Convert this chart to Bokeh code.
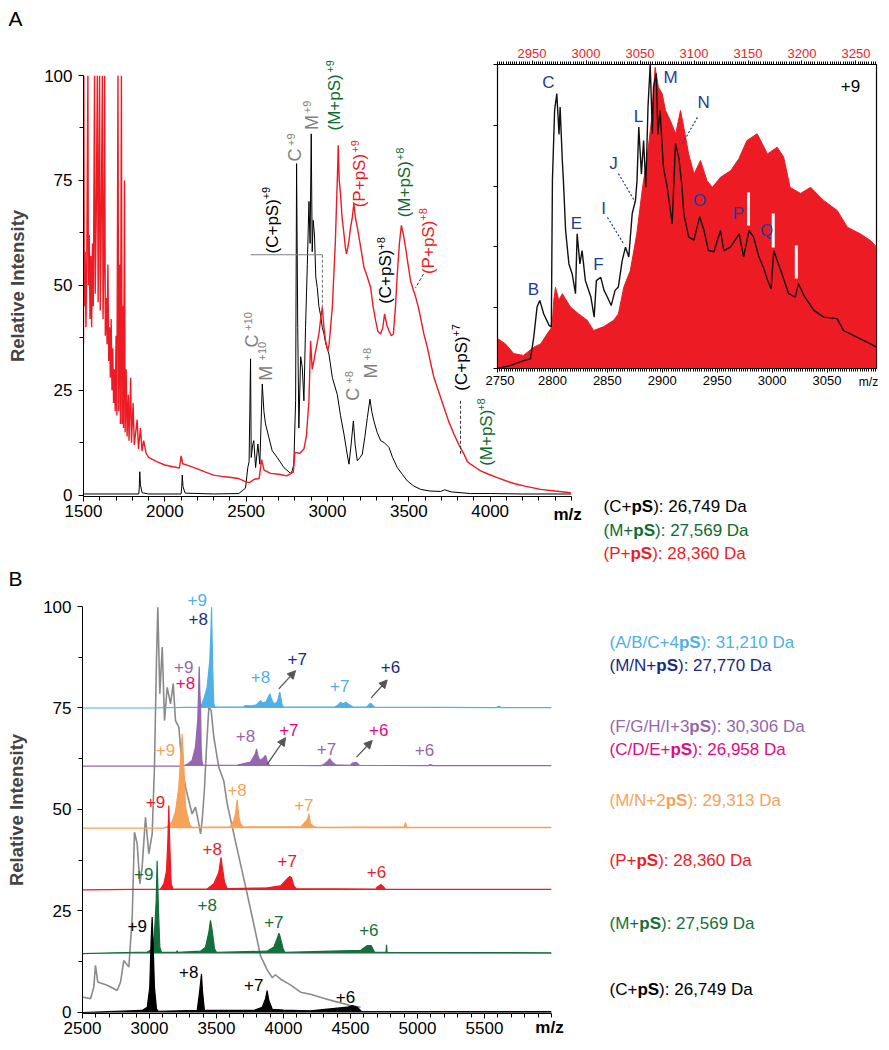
import numpy as np
from bokeh.plotting import figure
from bokeh.models import Range1d, LinearAxis, FixedTicker, Label, Arrow, NormalHead
from bokeh.embed import file_html
from bokeh.resources import INLINE

FONT = "Liberation Sans"
BLACK = "#000000"
GRAY_LBL = "#808080"
RED = "#ed1c24"
GREEN = "#0d6b30"
NAVY = "#1b2a80"
LBLUE = "#4fb0e5"
PURPLE = "#9467b0"
MAGENTA = "#e4087e"
ORANGE = "#f6a25a"
DGREEN = "#14703a"
GRAYLINE = "#8a8a8a"
INSET_BLUE = "#1f3d97"

# ---------------- Panel A : main spectra ----------------
a_xticks = [1500, 2000, 2500, 3000, 3500, 4000]
a_yticks = [0, 25, 50, 75, 100]

a_black_mz = [1500, 1700, 1840, 1843, 1846, 1850, 1860, 1900, 2100, 2104, 2107, 2112, 2125, 2300,
              2455, 2496, 2510, 2518, 2527, 2531, 2540, 2547, 2558, 2572, 2584, 2599, 2609, 2619,
              2640, 2660, 2691, 2732, 2773, 2783, 2793, 2804, 2810, 2817, 2824, 2835, 2845, 2855,
              2865, 2876, 2886, 2893, 2900, 2906, 2912, 2920, 2928, 2937, 2947, 2957, 2968, 2978,
              2990, 3009, 3030, 3060, 3080, 3101, 3120, 3132, 3145, 3159, 3170, 3183, 3200, 3214,
              3230, 3245, 3261, 3272, 3285, 3305, 3327, 3350, 3378, 3400, 3429, 3460, 3491, 3530,
              3573, 3630, 3696, 3720, 3760, 3880, 4000, 4200, 4500]
a_black_int = [0.3, 0.3, 0.3, 2, 5.6, 2.5, 0.6, 0.3, 0.3, 2, 4.8, 2, 0.5, 0.3,
               0.4, 1.7, 6.6, 8, 32.5, 9, 12, 13, 6.6, 12.2, 7.4, 26.5, 20, 17,
               13.7, 10.6, 9, 6.6, 5.2, 5.8, 7.4, 22.5, 79, 40, 16, 33, 30.5, 22.5,
               40, 55, 70, 60, 86.1, 58, 65.5, 62, 52, 49.5, 45, 43, 40, 38.5,
               36, 33.6, 28, 24, 19, 14.6, 10, 7.4, 12, 17.7, 12, 8.2, 9, 9.8,
               14, 18.5, 22.9, 20, 17.7, 15, 13, 12.5, 11.4, 9, 6.6, 5, 3.4, 2.2,
               1.4, 1.0, 0.9, 1.3, 0.8, 0.4, 0.4, 0.3, 0.3]

a_red_mz = [1500, 1502, 1505, 1510, 1515, 1520, 1527, 1530, 1535, 1540, 1545, 1550, 1555, 1560,
            1568, 1572, 1578, 1585, 1590, 1594, 1599, 1603, 1608, 1616, 1620, 1625, 1630, 1634,
            1640, 1645, 1650, 1655, 1660, 1665, 1670, 1675, 1680, 1685, 1690, 1695, 1700, 1705,
            1712, 1716, 1722, 1727, 1733, 1737, 1742, 1746, 1752, 1756, 1762, 1768, 1775, 1780,
            1790, 1795, 1805, 1812, 1830, 1838, 1850, 1860, 1870, 1885, 1900, 1950, 2000, 2050,
            2090, 2100, 2110, 2150, 2200, 2250, 2300, 2350, 2400, 2450, 2500, 2520, 2550, 2580,
            2595, 2610, 2650, 2700, 2750, 2790, 2800, 2830, 2855, 2870, 2886, 2896, 2906, 2916,
            2930, 2947, 2958, 2968, 2978, 2988, 3002, 3010, 3019, 3030, 3039, 3048, 3056, 3061,
            3066, 3072, 3080, 3090, 3101, 3110, 3117, 3130, 3142, 3152, 3162, 3172, 3183, 3200,
            3224, 3245, 3265, 3280, 3296, 3310, 3327, 3340, 3351, 3365, 3378, 3392, 3405, 3418,
            3429, 3442, 3454, 3467, 3480, 3495, 3511, 3527, 3542, 3557, 3572, 3592, 3614, 3634,
            3654, 3685, 3716, 3745, 3777, 3808, 3839, 3860, 3880, 3910, 3941, 3990, 4043, 4100,
            4146, 4220, 4310, 4400, 4495]
a_red_int = [36, 100, 45, 58, 40, 55, 100, 50, 62, 42, 57, 40, 60, 45,
             100, 48, 65, 100, 46, 70, 100, 44, 60, 100, 42, 55, 100, 38,
             47, 36, 55, 32, 40, 28, 42, 25, 35, 22, 30, 20, 38, 19,
             100, 20, 55, 17, 100, 17, 45, 16, 75, 15, 30, 14, 24, 13,
             28, 12.5, 22, 12, 18, 11, 16, 10.5, 13, 10, 9, 8, 7.2, 6.8,
             6.5, 9.4, 7.5, 7, 6.3, 5.5, 4.8, 4.5, 4.3, 4, 3.2, 3, 3.8, 4,
             8.5, 6, 5.2, 5, 4.6, 5.5, 10.2, 10, 11, 14, 22.5, 36.8, 30, 32,
             35, 38.4, 42, 44.8, 40, 36.8, 34.4, 36, 40, 45, 52.7, 60, 70, 76,
             83.4, 75, 71.8, 66, 62.3, 59, 57.5, 60, 63.9, 66, 69.5, 66, 63.9, 60,
             54.3, 52, 49.5, 45, 41.6, 39, 38.4, 40, 43.2, 40.5, 39.2, 38, 38.4, 45,
             52.7, 60, 64.3, 62, 59, 55, 51, 49, 47.2, 45, 42.4, 38.5, 35.2, 31.5,
             28.1, 24.5, 20.9, 17.6, 14.6, 12, 9.8, 8, 7.4, 6.6, 5.8, 5, 4.2, 3.4,
             2.8, 2.1, 1.4, 1.0, 0.6]

# ---------------- Panel A : inset ----------------
ins_bottom_ticks = [2750, 2800, 2850, 2900, 2950, 3000, 3050]
ins_top_ticks = [2950, 3000, 3050, 3100, 3150, 3200, 3250]
ins_y_ticks = [0, 20, 40, 60, 80, 100]

ins_black_mz = [2750, 2762, 2774, 2780, 2783, 2786, 2788.5, 2792, 2797, 2799, 2800, 2802, 2804, 2806,
                2807, 2809, 2810, 2812, 2815, 2818, 2821, 2822.5, 2825, 2827, 2830, 2835, 2838, 2840,
                2844, 2847, 2850, 2853.5, 2857, 2860, 2863.5, 2866.5, 2869.5, 2872.6, 2875.6, 2877,
                2878.6, 2881, 2883, 2885, 2887, 2889, 2891, 2892, 2894.5, 2896, 2898, 2901, 2904.5,
                2909, 2912, 2915, 2918, 2919.6, 2924, 2928.7, 2934, 2938, 2942, 2947, 2953, 2956,
                2962, 2970, 2974, 2979, 2983, 2988, 2992, 2996, 2999, 3001.5, 3004.6, 3009, 3015,
                3021, 3024, 3029, 3038, 3047, 3059, 3065, 3077, 3089.5, 3095]
ins_black_int = [0, 1, 2.6, 3.2, 10.3, 20.2, 22.4, 18, 14.2, 13.7, 62, 85, 90.4, 77,
                 86, 68.4, 61.8, 45.4, 34.4, 31.1, 24.6, 44.3, 34.4, 38.8, 28.9, 23.5, 16.9, 28.9,
                 30, 25.7, 23.5, 20.7, 25.7, 26.8, 35.5, 39.9, 36.7, 50.9, 55.3, 61.8,
                 79.4, 64, 75, 59.6, 86, 100, 77.2, 92.6, 97, 77, 84.9, 66.3, 59.6,
                 47.6, 74, 69.6, 59.6, 50.9, 43.3, 42.2, 49.9, 45.4, 38.8, 38.4, 45.4, 38.8,
                 39.9, 44.3, 36.7, 45.4, 43.3, 36.7, 33.3, 28.9, 26.2, 38.8, 35.5, 31.1, 24.6,
                 23.5, 27.9, 24, 19.1, 16.9, 16.4, 12.5, 10.3, 8.1, 7]

# red filled spectrum, on the top (red) m/z axis
ins_red_mz = [2918.3, 2925.4, 2933, 2942, 2951.6, 2958, 2964, 2968.6, 2970, 2971.7, 2974.8, 2978,
              2985.6, 2993, 3001, 3007, 3016, 3025.7, 3030, 3035, 3041, 3047, 3052, 3056.6, 3061,
              3064, 3067, 3070.5, 3073.6, 3078, 3083, 3087.5, 3090.5, 3095, 3100, 3106, 3112, 3117,
              3124.5, 3134, 3141.5, 3149, 3158.5, 3168, 3177, 3183, 3189, 3198.6, 3208, 3220,
              3232.6, 3242, 3254, 3263.4, 3269]
ins_red_int = [9.8, 8.1, 4.9, 4.3, 7, 8.1, 11.4, 13.7, 22, 26.7, 22.4, 24.6,
               20.2, 18, 15.9, 12.5, 13.7, 15.9, 18, 26.8, 32.2, 44.3, 58.6, 69.6, 82.8,
               99.1, 92.5, 90.4, 84.9, 81.6, 77.2, 84.9, 79.4, 70.6, 64, 68.4, 61.8, 59.6,
               62.9, 65.1, 69, 75, 77.2, 70.6, 72.8, 69.6, 59.6, 57.6, 59.6, 55.3,
               52, 46.5, 44.3, 42.1, 40]

ins_bar_mz = [2978.5, 3001, 3022]
ins_bar_lo = [47, 39.8, 29.6]
ins_bar_hi = [57.9, 51, 40.5]

# ---------------- Panel B ----------------
b_xticks = [2500, 3000, 3500, 4000, 4500, 5000, 5500]
b_yticks = [0, 25, 50, 75, 100]

b_gray_mz = [2500, 2560, 2584, 2597, 2614, 2684, 2759, 2784, 2808, 2846, 2871, 2888, 2908, 2928,
             2945, 2970, 2995, 3020, 3037, 3052, 3062, 3077, 3095, 3112, 3132, 3157, 3177, 3194,
             3219, 3244, 3269, 3293, 3318, 3343, 3365, 3381, 3393, 3410, 3425, 3443, 3460, 3480,
             3517, 3554, 3580, 3629, 3679, 3729, 3778, 3828, 3878, 3916, 3940, 3978, 4052, 4127,
             4201, 4300, 4375, 4500, 4575]
b_gray_int = [3.8, 3.4, 6.2, 11.6, 7.5, 6.7, 5.4, 7.5, 12.8, 11.2, 23.5, 44.4, 41.6, 31.7,
              35.8, 48.1, 39.1, 44, 60.4, 86.7, 99.8, 78.5, 90, 71.9, 80.1, 76, 81, 71.9,
              70.3, 60.4, 55.5, 52.2, 48.9, 50.6, 47, 44, 47.3, 55, 65, 75.2, 74.4, 67.8,
              60.4, 57.1, 51.4, 44, 36.6, 29.2, 21.8, 14, 10.5, 8.6, 9.3, 8.2, 6.8, 5,
              4.5, 3.5, 2.8, 1.7, 1.3]

b_offsets = [75.0, 60.7, 45.4, 30.2, 14.5, 0.0]   # blue, purple, orange, red, green, black

b_blue_mz = [2500, 3000, 3381, 3405, 3430, 3450, 3458, 3463, 3468, 3472, 3480, 3490, 3700, 3716,
             3760, 3800, 3828, 3845, 3870, 3898, 3910, 3928, 3955, 3972, 3990, 4000, 4380, 4410,
             4425, 4445, 4463, 4500, 4520, 4620, 4649, 4680, 5590, 5607, 5625, 6000]
b_blue_int = [0, 0, 0.2, 2.2, 5.1, 11.7, 18, 24.8, 16, 9.2, 1, 0.2, 0.2, 0.6,
              0.5, 0.8, 1.8, 1.2, 1.5, 3.5, 2.2, 1, 1.5, 3.9, 0.8, 0.2, 0.2, 0.8,
              1.4, 1, 1.4, 0.6, 0.2, 0.2, 1.2, 0.2, 0.1, 0.4, 0.1, 0.1]

b_purple_mz = [2500, 3250, 3281, 3318, 3343, 3360, 3366, 3371, 3376, 3381, 3386, 3392, 3400, 3650,
               3679, 3754, 3790, 3799, 3810, 3823, 3845, 3866, 3880, 3895, 4280, 4301, 4330, 4346,
               4362, 4388, 4500, 4513, 4545, 4565, 5080, 5097, 5115, 6000]
b_purple_int = [0, 0, 0.4, 1.4, 4.7, 11.3, 18, 24.5, 18, 14.6, 4, 1, 0.2, 0.2,
                0.4, 1, 3, 4.2, 2.5, 1.4, 1.8, 2.6, 1, 0.2, 0.1, 0.4, 1.2, 1.8,
                1, 0.3, 0.2, 0.7, 0.9, 0.2, 0.1, 0.4, 0.1, 0.1]

b_orange_mz = [2500, 3100, 3132, 3169, 3194, 3219, 3231, 3244, 3256, 3269, 3281, 3301, 3320, 3600,
               3629, 3642, 3654, 3660, 3668, 3679, 3700, 4130, 4151, 4181, 4190, 4201, 4226, 4250,
               4900, 4910, 4920, 6000]
b_orange_int = [0, 0, 0.3, 1.6, 4.1, 10.2, 16.7, 23.2, 15, 5.2, 3.5, 0.7, 0.2, 0.3,
                1.9, 3.5, 7, 5, 2.5, 1.1, 0.3, 0.3, 1.1, 2.3, 3.5, 1.1, 0.4, 0.2,
                0.3, 1.4, 0.2, 0.2]

b_red_mz = [2500, 3082, 3107, 3127, 3137, 3144, 3152, 3162, 3175, 3430, 3480, 3517, 3534, 3542,
            3560, 3580, 3878, 3978, 4027, 4047, 4060, 4077, 4095, 4690, 4699, 4729, 4745, 4762, 6000]
b_red_int = [0, 0.2, 1.5, 4.7, 12.1, 20.8, 10.5, 1.5, 0.2, 0.2, 1.5, 4.3, 8, 5.9,
             1.9, 0.3, 0.5, 1, 2.7, 3.3, 3, 1, 0.3, 0.2, 0.7, 1.3, 0.8, 0.1, 0.1]

b_green_mz = [2500, 2983, 3020, 3037, 3050, 3057, 3067, 3077, 3090, 3200, 3206, 3212, 3381, 3418,
              3443, 3455, 3468, 3485, 3500, 3878, 3928, 3957, 3965, 3972, 3997, 4010, 4575, 4625,
              4654, 4679, 4700, 4765, 4769, 4773, 6000]
b_green_int = [0, 0.4, 1, 4.9, 13.1, 22.9, 10.6, 1.6, 0.3, 0.3, 0.7, 0.3, 0.6, 1.6,
               5.3, 8.2, 5.7, 1.2, 0.3, 0.6, 1.6, 4.1, 5, 4.5, 1.2, 0.3, 0.8, 2,
               2, 0.4, 0.3, 0.3, 2.2, 0.3, 0.2]

b_black_mz = [2500, 2945, 2983, 3002, 3012, 3020, 3027, 3037, 3052, 3065, 3356, 3375, 3388, 3395,
              3410, 3778, 3841, 3866, 3878, 3890, 3916, 4000, 4200, 4475, 4513, 4550, 4580, 6000]
b_black_int = [0, 0.5, 1.3, 6.2, 17.7, 23.5, 16.9, 6.2, 0.9, 0.3, 0.5, 5.4, 9.5, 5.4,
               0.5, 0.5, 1.3, 3.4, 5.4, 3, 0.8, 0.6, 0.4, 1.3, 1.7, 1.3, 0.3, 0.2]

# ---------------- page geometry (frames, in page pixels) ----------------
PAGE_W, PAGE_H = 881, 1044
A_H = 565
A_FR = (83, 571, 75, 496)        # left, right, top, bottom
A_XR = (1500, 4500)
A_YR = (-0.3, 100)
B_H = PAGE_H - A_H
B_FR = (82, 551, 606, 1013)
B_XR = (2500, 6000)
B_YR = (-0.25, 100)
I_FR = (497, 876, 64, 368)
I_XR = (2750, 3095)
I_XR_TOP = (2918, 3269)
I_YR = (0, 100)
I_BORD = (12, 6, 28, 28)          # left, right, top, bottom


def span(v0, p0, v1, p1, q0, q1):
    k = (v1 - v0) / (p1 - p0)
    return v0 + (q0 - p0) * k, v0 + (q1 - p0) * k


def place(p, left, top, w, h, z):
    p.styles = {"position": "absolute", "left": f"{left}px", "top": f"{top}px",
                "width": f"{w}px", "height": f"{h}px", "z-index": str(z)}


# ---------------- text helpers ----------------
W_REG = {'(': 333, ')': 333, '+': 584, ':': 278, ',': 278, ' ': 278, '/': 278, 'A': 667, 'B': 667,
         'C': 722, 'D': 722, 'E': 667, 'F': 611, 'G': 778, 'H': 722, 'I': 278, 'M': 833, 'N': 722,
         'P': 667, 'a': 556, 'p': 556, 'S': 667}
W_BOLD = {'p': 611, 'S': 667}


def text_w(s, bold, size):
    tot = 0
    for ch in s:
        tot += (W_BOLD.get(ch, W_REG.get(ch, 556)) if bold else W_REG.get(ch, 556))
    return tot * size / 1000.0


def lbl(p, x, y, text, color, size=17, angle=0.0, align="center", bold=False, xr=None, yr=None, x_off=0):
    kw = {}
    if xr:
        kw["x_range_name"] = xr
    if yr:
        kw["y_range_name"] = yr
    p.add_layout(Label(x=x, y=y, x_offset=x_off, text=text, text_color=color, text_font=FONT,
                       text_font_size=f"{size}px", angle=angle, text_align=align,
                       text_baseline="middle", text_font_style="bold" if bold else "normal", **kw))


def legend_line(p, x, y, parts, color, size=17, xr=None, yr=None):
    off = 0.0
    for s, bold in parts:
        lbl(p, x, y, s, color, size=size, align="left", bold=bold, xr=xr, yr=yr, x_off=off)
        off += text_w(s, bold, size)


def style_axis(ax, size="17px", color="black", tick_out=5, minor_out=4, standoff=3):
    ax.axis_line_color = "black"
    ax.axis_line_width = 1
    ax.major_tick_line_color = "black"
    ax.minor_tick_line_color = "black"
    ax.major_tick_in = 0
    ax.major_tick_out = tick_out
    ax.minor_tick_in = 0
    ax.minor_tick_out = minor_out
    ax.major_label_text_font = FONT
    ax.major_label_text_font_size = size
    ax.major_label_text_color = color
    ax.major_label_standoff = standoff
    ax.axis_label_text_font = FONT


def base_fig(w, h, fr, top0, xr, yr):
    l, r, t, b = fr
    return figure(width=w, height=h, x_range=Range1d(*xr), y_range=Range1d(*yr),
                  output_backend="svg", toolbar_location=None,
                  min_border_left=l, min_border_right=w - r,
                  min_border_top=t - top0, min_border_bottom=top0 + h - b)


# ================= Panel A main =================
pA = base_fig(PAGE_W, A_H, A_FR, 0, A_XR, A_YR)
pA.grid.visible = False
pA.outline_line_color = None

style_axis(pA.xaxis[0])
pA.xaxis[0].ticker = FixedTicker(ticks=a_xticks, minor_ticks=list(range(1500, 4501, 100)))
style_axis(pA.yaxis[0], standoff=6)
pA.yaxis[0].ticker = FixedTicker(ticks=a_yticks, minor_ticks=[12.5, 37.5, 62.5, 87.5])
pA.yaxis[0].axis_label = "Relative Intensity"
pA.yaxis[0].axis_label_text_font_style = "bold"
pA.yaxis[0].axis_label_text_font_size = "18.5px"
pA.yaxis[0].axis_label_standoff = 13

pA.line(a_black_mz, a_black_int, line_color=BLACK, line_width=1)
pA.line(a_red_mz, a_red_int, line_color=RED, line_width=1.4)

pA.segment(x0=[2527], y0=[57.3], x1=[2969], y1=[57.3], line_color=GRAY_LBL, line_width=1.2)
pA.segment(x0=[2969], y0=[57.3], x1=[2969], y1=[44.7], line_color=GRAY_LBL, line_width=1.2, line_dash="3 2")
pA.segment(x0=[3590], y0=[52.7], x1=[3541], y1=[49.4], line_color="#333333", line_width=1, line_dash="3 2")
pA.segment(x0=[3818], y0=[22.5], x1=[3818], y1=[9.8], line_color="#333333", line_width=1, line_dash="3 2")
place(pA, 0, 0, PAGE_W, A_H, 1)

# ================= Panel A inset =================
il, ir, it, ib = I_BORD
I_W = il + (I_FR[1] - I_FR[0]) + ir
I_H = it + (I_FR[3] - I_FR[2]) + ib
pI = figure(width=I_W, height=I_H, x_range=Range1d(*I_XR), y_range=Range1d(*I_YR),
            output_backend="svg", toolbar_location=None,
            min_border_left=il, min_border_right=ir, min_border_top=it, min_border_bottom=ib)
pI.grid.visible = False
pI.background_fill_color = "white"
pI.border_fill_alpha = 0
pI.outline_line_color = "black"
pI.outline_line_width = 1.2
pI.extra_x_ranges = {"top": Range1d(*I_XR_TOP)}

style_axis(pI.xaxis[0], size="13px", tick_out=4, minor_out=3, standoff=3)
pI.xaxis[0].ticker = FixedTicker(ticks=ins_bottom_ticks, minor_ticks=list(range(2750, 3096, 2)))
style_axis(pI.yaxis[0], size="13px", tick_out=4, minor_out=4, standoff=0)
pI.yaxis[0].ticker = FixedTicker(ticks=[], minor_ticks=ins_y_ticks)
top_axis = LinearAxis(x_range_name="top")
style_axis(top_axis, size="13px", color=RED, tick_out=4, minor_out=3, standoff=3)
top_axis.ticker = FixedTicker(ticks=ins_top_ticks, minor_ticks=list(range(2918, 3270, 2)))
pI.add_layout(top_axis, "above")

pI.varea(x=ins_red_mz, y1=[0] * len(ins_red_mz), y2=ins_red_int, fill_color=RED, x_range_name="top")
pI.line(ins_red_mz, ins_red_int, line_color=RED, line_width=1, x_range_name="top")
pI.segment(x0=ins_bar_mz, y0=ins_bar_lo, x1=ins_bar_mz, y1=ins_bar_hi, line_color="white", line_width=3)
pI.line(ins_black_mz, ins_black_int, line_color="#111111", line_width=1.4)
pI.segment(x0=[2860.1, 2850.1, 2932.0], y0=[64.1, 49.7, 82.6],
           x1=[2875.6, 2864.7, 2918.4], y1=[54.6, 41.1, 74.0],
           line_color=INSET_BLUE, line_width=1.2, line_dash="2 2")

ins_letters = [("B", 2782.8, 26.0), ("C", 2796.4, 94.1), ("E", 2821.9, 47.7), ("F", 2841.9, 34.2),
               ("I", 2846.5, 52.6), ("J", 2855.6, 67.4), ("L", 2878.4, 82.9), ("M", 2907.5, 95.7),
               ("N", 2937.6, 87.5), ("O", 2934.0, 55.3), ("P", 2969.4, 51.0), ("Q", 2994.9, 45.4)]
for t, x, y in ins_letters:
    lbl(pI, x, y, t, INSET_BLUE, size=17)
lbl(pI, 3071.3, 92.8, "+9", BLACK, size=17)
place(pI, I_FR[0] - il, I_FR[2] - it, I_W, I_H, 5)

# ================= Panel B =================
pB = base_fig(PAGE_W, B_H, B_FR, A_H, B_XR, B_YR)
pB.grid.visible = False
pB.outline_line_color = None

style_axis(pB.xaxis[0])
pB.xaxis[0].ticker = FixedTicker(ticks=b_xticks, minor_ticks=list(range(2500, 6001, 100)))
style_axis(pB.yaxis[0], standoff=6)
pB.yaxis[0].ticker = FixedTicker(ticks=b_yticks, minor_ticks=[12.5, 37.5, 62.5, 87.5])
pB.yaxis[0].axis_label = "Relative Intensity"
pB.yaxis[0].axis_label_text_font_style = "bold"
pB.yaxis[0].axis_label_text_font_size = "18.5px"
pB.yaxis[0].axis_label_standoff = 13

pB.line(b_gray_mz, b_gray_int, line_color=GRAYLINE, line_width=1.6)

b_series = [(b_blue_mz, b_blue_int, LBLUE), (b_purple_mz, b_purple_int, PURPLE),
            (b_orange_mz, b_orange_int, ORANGE), (b_red_mz, b_red_int, RED),
            (b_green_mz, b_green_int, DGREEN), (b_black_mz, b_black_int, BLACK)]
for (mz, iv, col), off in zip(b_series, b_offsets):
    top = [off + v for v in iv]
    pB.varea(x=mz, y1=[off] * len(mz), y2=top, fill_color=col)
    pB.line(mz, top, line_color=col, line_width=1.2)

arrows = [(3965, 79.7, 4090, 84.2), (4654, 77.5, 4774, 81.9),
          (3878, 61.1, 4015, 67.7), (4545, 62.9, 4662, 67.0)]
for xs, ys, xe, ye in arrows:
    pB.add_layout(Arrow(end=NormalHead(size=8, fill_color="#555555", line_color="#555555"),
                        x_start=xs, y_start=ys, x_end=xe, y_end=ye,
                        line_color="#555555", line_width=1.3))
place(pB, 0, A_H, PAGE_W, B_H, 1)

# ================= text overlay (whole page, same scales as the panels) =================
ov_x = span(A_XR[0], A_FR[0], A_XR[1], A_FR[1], 0, PAGE_W)
ov_y = span(A_YR[1], A_FR[2], A_YR[0], A_FR[3], PAGE_H, 0)
pO = figure(width=PAGE_W, height=PAGE_H, x_range=Range1d(*ov_x), y_range=Range1d(*ov_y),
            output_backend="svg", toolbar_location=None, x_axis_location=None, y_axis_location=None,
            min_border_left=0, min_border_right=0, min_border_top=0, min_border_bottom=0)
pO.grid.visible = False
pO.outline_line_color = None
pO.background_fill_alpha = 0
pO.border_fill_alpha = 0
pO.extra_x_ranges = {"bx": Range1d(*span(B_XR[0], B_FR[0], B_XR[1], B_FR[1], 0, PAGE_W)),
                     "ix": Range1d(*span(I_XR[0], I_FR[0], I_XR[1], I_FR[1], 0, PAGE_W))}
pO.extra_y_ranges = {"by": Range1d(*span(B_YR[1], B_FR[2], B_YR[0], B_FR[3], PAGE_H, 0)),
                     "iy": Range1d(*span(I_YR[1], I_FR[2], I_YR[0], I_FR[3], PAGE_H, 0))}
place(pO, 0, 0, PAGE_W, PAGE_H, 10)

R = np.pi / 2
rot_labels = [
    ("C", 2533, 35.2, GRAY_LBL, 18), ("+10", 2509, 39.2, GRAY_LBL, 11),
    ("M", 2619, 27.3, GRAY_LBL, 18), ("+10", 2595, 32.1, GRAY_LBL, 11),
    ("(C+pS)", 2662, 57.6, BLACK, 17), ("+9", 2619, 70.5, BLACK, 11),
    ("C", 2798, 79.5, GRAY_LBL, 18), ("+9", 2773, 83.2, GRAY_LBL, 11),
    ("M", 2902, 87.0, GRAY_LBL, 18), ("+9", 2871, 91.0, GRAY_LBL, 11),
    ("(M+pS)", 3043, 86.9, GREEN, 17), ("+9", 3013, 100.7, GREEN, 11),
    ("(P+pS)", 3197, 68.6, RED, 17), ("+9", 3166, 81.6, RED, 11),
    ("(C+pS)", 3357, 45.6, BLACK, 17), ("+8", 3326, 58.5, BLACK, 11),
    ("(M+pS)", 3471, 66.2, GREEN, 17), ("+8", 3443, 79.8, GREEN, 11),
    ("(P+pS)", 3622, 52.7, RED, 17), ("+8", 3585, 65.4, RED, 11),
    ("(C+pS)", 3824, 24.9, BLACK, 17), ("+7", 3793, 37.8, BLACK, 11),
    ("(M+pS)", 3978, 7.0, GREEN, 17), ("+8", 3941, 20.1, GREEN, 11),
    ("C", 3154, 22.5, GRAY_LBL, 18), ("+8", 3130, 26.6, GRAY_LBL, 11),
    ("M", 3265, 27.8, GRAY_LBL, 18), ("+8", 3240, 32.1, GRAY_LBL, 11),
]
for t, x, y, c, s in rot_labels:
    lbl(pO, x, y, t, c, size=s, angle=R, align="left")

lbl(pO, 4476, -4.6, "m/z", BLACK, size=17, bold=True)
lbl(pO, 1082, 113.6, "A", BLACK, size=21)
legend_line(pO, 4697, -2.7, [("(C+", False), ("pS", True), ("): 26,749 Da", False)], BLACK)
legend_line(pO, 4697, -8.4, [("(M+", False), ("pS", True), ("): 27,569 Da", False)], GREEN)
legend_line(pO, 4697, -13.9, [("(P+", False), ("pS", True), ("): 28,360 Da", False)], RED)

lbl(pO, 3087.7, -4.6, "m/z", BLACK, size=12, xr="ix", yr="iy")

b_labels = [
    ("+9", 3356, 101.5, LBLUE), ("+8", 3363, 97.0, NAVY), ("+8", 3828, 82.6, LBLUE),
    ("+7", 4102, 87.1, NAVY), ("+7", 4420, 80.5, LBLUE), ("+6", 4799, 85.0, NAVY),
    ("+9", 3256, 85.2, PURPLE), ("+8", 3269, 81.1, MAGENTA), ("+8", 3716, 68.2, PURPLE),
    ("+7", 4040, 69.5, MAGENTA), ("+7", 4321, 65.0, PURPLE), ("+6", 4711, 69.5, MAGENTA),
    ("+6", 5052, 64.7, PURPLE),
    ("+9", 3119, 64.7, ORANGE), ("+8", 3654, 54.9, ORANGE), ("+7", 4152, 51.0, ORANGE),
    ("+9", 3045, 51.8, RED), ("+8", 3468, 40.3, RED), ("+7", 4028, 37.4, RED), ("+6", 4694, 34.6, RED),
    ("+9", 2957, 34.2, DGREEN), ("+8", 3431, 26.4, DGREEN), ("+7", 3928, 22.2, DGREEN),
    ("+6", 4637, 20.2, DGREEN),
    ("+9", 2908, 21.4, BLACK), ("+8", 3293, 9.9, BLACK), ("+7", 3778, 6.7, BLACK), ("+6", 4463, 3.8, BLACK),
]
for t, x, y, c in b_labels:
    lbl(pO, x, y, t, c, size=17, xr="bx", yr="by")

lbl(pO, 5985, -3.6, "m/z", BLACK, size=17, bold=True, xr="bx", yr="by")
lbl(pO, 2000, 106.9, "B", BLACK, size=21, xr="bx", yr="by")

b_leg = [(91.2, "(A/B/C+4", "): 31,210 Da", LBLUE), (85.5, "(M/N+", "): 27,770 Da", NAVY),
         (70.4, "(F/G/H/I+3", "): 30,306 Da", PURPLE), (64.8, "(C/D/E+", "): 26,958 Da", MAGENTA),
         (52.2, "(M/N+2", "): 29,313 Da", ORANGE), (37.4, "(P+", "): 28,360 Da", RED),
         (21.8, "(M+", "): 27,569 Da", DGREEN), (5.6, "(C+", "): 26,749 Da", BLACK)]
for y, pre, post, col in b_leg:
    legend_line(pO, 6433, y, [(pre, False), ("pS", True), (post, False)], col, xr="bx", yr="by")

with open("out.html", "w") as f:
    f.write(file_html([pA, pB, pI, pO], INLINE))
